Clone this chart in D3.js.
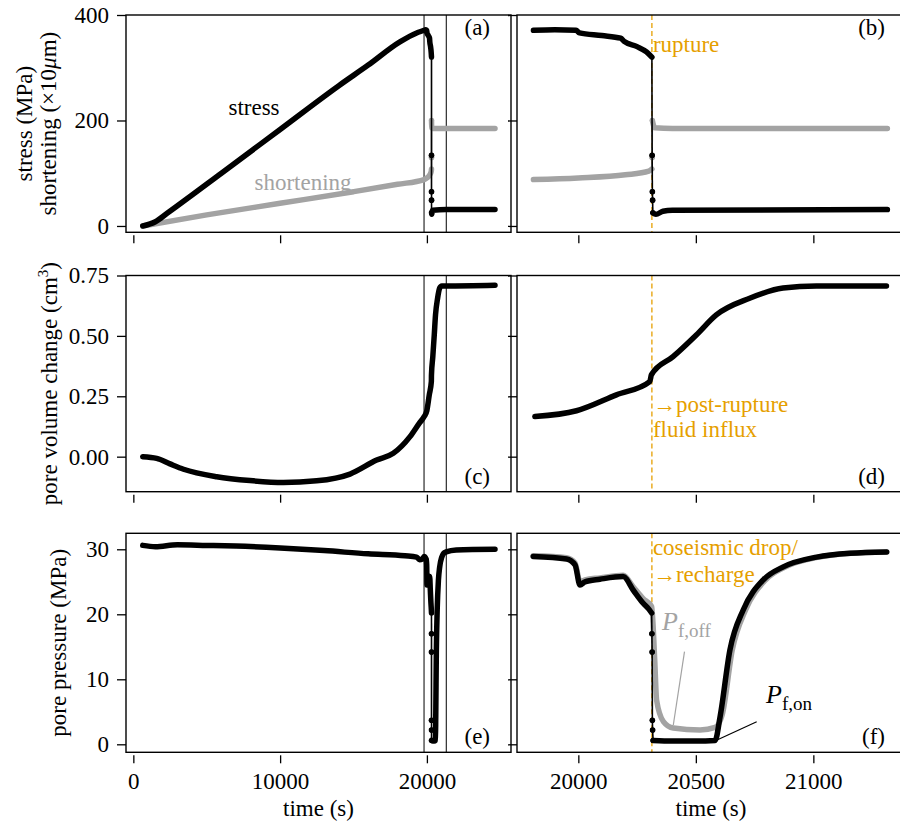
<!DOCTYPE html>
<html>
<head>
<meta charset="utf-8">
<script src="https://cdn.jsdelivr.net/npm/d3@7"></script>
<style>
  body { margin: 0; background: #fff; }
  svg { display: block; font-family: "Liberation Serif", "Tinos", "Times New Roman", "DejaVu Serif", serif; }
  svg text { font-family: "Liberation Serif", "Tinos", "Times New Roman", "DejaVu Serif", serif; }
</style>
</head>
<body>
<div id="chart"></div>
<script>
// ---- data: [time (s), value] ----
const stress = [[640,0],[1500,8],[2300,24],[6000,100],[10000,183],[14000,266],[16000,305],[18160,349],
  [19300,366],[19809,371],[19900,372],[19990,371],[20005,366],[20100,361],[20180,356],[20195,350],
  [20250,340],[20290,330],[20313,320],[20314,134],[20315,65],[20316,49],[20317,25],[20330,22],
  [20360,28],[20400,30],[21315,31],[24640,31]];
const shortening = [[640,0],[5000,21],[10000,43],[15000,65],[18000,79],[19809,88],[20000,91],
  [20200,97],[20300,104],[20313,108],[20314,130],[20315,200],[20325,186],[20400,185],[21315,185],[24640,185]];
const poreVolume = [[640,0],[1590,-0.007],[2500,-0.03],[3420,-0.052],[5680,-0.083],[7950,-0.099],
  [10220,-0.107],[12490,-0.1],[14760,-0.072],[16580,-0.014],[17710,0.014],[18850,0.083],[19500,0.14],
  [19815,0.166],[19992,0.19],[20162,0.256],[20304,0.311],[20311,0.339],[20403,0.414],[20502,0.504],
  [20587,0.587],[20729,0.656],[20871,0.698],[21013,0.707],[21311,0.707],[24640,0.71]];
const pfOn = [[640,30.6],[1500,30.4],[3000,30.7],[5000,30.6],[7000,30.5],[10000,30.2],[13000,29.8],
  [16000,29.3],[18500,29.0],[19300,28.8],[19500,28.4],[19700,28.5],[19808,28.9],[19950,28.5],
  [19986,27.6],[20007,24.5],[20028,25.0],[20092,25.4],[20191,25.8],[20234,23.7],[20276,21.7],
  [20300,20.8],[20312,20.2],[20313,17],[20314,14.2],[20315,3.7],[20316,2.2],[20318,0.6],[20400,0.5],
  [20500,0.5],[20582,0.6],[20603,4.2],[20645,14.5],[20702,20.7],[20787,25.3],[20872,27.3],
  [21014,28.8],[21156,29.4],[21312,29.6],[22000,29.9],[24640,30.0]];
const pfOff = [[19808,29.0],[19950,28.7],[19986,27.9],[20007,25.0],[20028,25.3],[20092,25.6],
  [20191,26.0],[20234,24.2],[20276,22.4],[20312,21.2],[20325,13],[20333,6.8],[20362,3.5],[20404,2.5],
  [20518,2.2],[20582,2.6],[20612,4.5],[20655,14.5],[20712,20.7],[20797,25.3],[20882,27.3],
  [21024,28.8],[21166,29.4],[21312,29.6]];

const fullTicks = [0, 10000, 20000];
const zoomTicks = [20000, 20500, 21000];
const rupture = 20313;
const zoomWindow = [19805, 21320];

const black = "#000", grey = "#a3a3a3", orange = "#e69f00";
const fs = 23;
const serif = '"Liberation Serif", "Tinos", "Times New Roman", "DejaVu Serif", serif';

const svg = d3.select("#chart").append("svg")
  .attr("width", 900).attr("height", 828)
  .style("font-family", serif);

const xFull = d3.scaleLinear().domain([-500, 25730]).range([126, 511]);
const xZoom = d3.scaleLinear().domain([19739, 21390]).range([517, 905]);

const rows = [
  {top: 15, bottom: 232.3, domain: [-12, 400], ticks: [0, 200, 400], fmt: d3.format("d"), tag: ["(a)", "(b)"], tagTop: true},
  {top: 275.5, bottom: 491.7, domain: [-0.145, 0.75], ticks: [0, 0.25, 0.5, 0.75], fmt: d3.format(".2f"), tag: ["(c)", "(d)"], tagTop: false},
  {top: 533.3, bottom: 752.3, domain: [-1.23, 32.46], ticks: [0, 10, 20, 30], fmt: d3.format("d"), tag: ["(e)", "(f)"], tagTop: false}
];
rows.forEach(r => r.y = d3.scaleLinear().domain(r.domain).range([r.bottom, r.top]));

const inWindow = d => d.filter(p => p[0] >= zoomWindow[0] && p[0] <= zoomWindow[1]);

// thick runs for dense data, thin line + dots where the record jumps within a couple of seconds
function drawSeries(g, x, y, data, color) {
  const line = d3.line().curve(d3.curveMonotoneX).x(d => x(d[0])).y(d => y(d[1]));
  const runs = [], jumps = [];
  let run = [data[0]];
  for (let i = 1; i < data.length; i++) {
    if (data[i][0] - data[i-1][0] <= 2) {
      jumps.push([data[i-1], data[i]]);
      runs.push(run);
      run = [data[i]];
    } else run.push(data[i]);
  }
  runs.push(run);
  jumps.forEach(j => {
    g.append("path").attr("d", d3.line().x(d => x(d[0])).y(d => y(d[1]))(j)).attr("fill", "none")
      .attr("stroke", color).attr("stroke-width", 1.6);
    g.append("circle").attr("cx", x(j[1][0])).attr("cy", y(j[1][1])).attr("r", 2.6).attr("fill", color);
  });
  runs.forEach(r => {
    if (r.length > 1) {
      g.append("path").attr("d", line(r)).attr("fill", "none")
        .attr("stroke", color).attr("stroke-width", 5.5)
        .attr("stroke-linejoin", "round").attr("stroke-linecap", "round");
    } else {
      g.append("circle").attr("cx", x(r[0][0])).attr("cy", y(r[0][1])).attr("r", 2.8).attr("fill", color);
    }
  });
}

function panel(row, x, ticksX, isLeft, idx) {
  const clipId = "clip" + idx;
  const [x0, x1] = x.range();
  svg.append("clipPath").attr("id", clipId).append("rect")
    .attr("x", x0).attr("y", row.top).attr("width", x1 - x0).attr("height", row.bottom - row.top);
  const g = svg.append("g");
  const plot = g.append("g").attr("clip-path", `url(#${clipId})`);

  const ya = g.append("g").attr("transform", `translate(${x0},0)`)
    .call(d3.axisLeft(row.y).tickValues(row.ticks).tickSize(9).tickPadding(8)
      .tickFormat(isLeft ? row.fmt : ""));
  // x ticks sit a little below the frame
  const isBottom = idx >= 4;
  const xa = g.append("g").attr("transform", `translate(0,${row.bottom + 3})`)
    .call(d3.axisBottom(x).tickValues(ticksX).tickSize(8).tickPadding(9)
      .tickFormat(isBottom ? d3.format("d") : ""));
  [ya, xa].forEach(a => {
    a.attr("font-family", null).attr("font-size", null);
    a.select(".domain").remove();
    a.selectAll("line").attr("stroke", black).attr("stroke-width", 1.3);
    a.selectAll("text").attr("font-size", fs).style("font-family", serif).attr("fill", black);
  });
  return plot;
}

function frame(row, x) {
  const [x0, x1] = x.range();
  svg.append("rect").attr("x", x0).attr("y", row.top).attr("width", x1 - x0)
    .attr("height", row.bottom - row.top).attr("fill", "none")
    .attr("stroke", black).attr("stroke-width", 1.4);
}

function tag(row, isLeft, txt) {
  svg.append("text").attr("x", isLeft ? 490 : 885)
    .attr("y", row.tagTop ? row.top + 20 : row.bottom - 8)
    .attr("text-anchor", "end").attr("font-size", fs).text(txt);
}

const series = [
  [[shortening, grey], [stress, black]],
  [[poreVolume, black]],
  [[pfOn, black]]
];
const seriesZoom = [
  [[shortening, grey], [stress, black]],
  [[poreVolume, black]],
  [[pfOff, grey], [pfOn, black]]
];

rows.forEach((row, i) => {
  // left: full record
  const pl = panel(row, xFull, fullTicks, true, i * 2);
  zoomWindow.forEach(t => pl.append("line").attr("x1", xFull(t)).attr("x2", xFull(t))
    .attr("y1", row.top).attr("y2", row.bottom).attr("stroke", black).attr("stroke-width", 1));
  if (i === 0) {
    pl.append("text").attr("x", 254).attr("y", 115).attr("text-anchor", "middle")
      .attr("font-size", fs).text("stress");
    pl.append("text").attr("x", 303).attr("y", 190).attr("text-anchor", "middle")
      .attr("font-size", fs).attr("fill", grey).text("shortening");
  }
  series[i].forEach(([d, c]) => drawSeries(pl, xFull, row.y, d, c));
  frame(row, xFull);
  tag(row, true, row.tag[0]);

  // right: zoom around rupture
  const pr = panel(row, xZoom, zoomTicks, false, i * 2 + 1);
  pr.append("line").attr("x1", xZoom(rupture)).attr("x2", xZoom(rupture))
    .attr("y1", row.top).attr("y2", row.bottom).attr("stroke", orange)
    .attr("stroke-width", 1.3).attr("stroke-dasharray", "5,3");
  seriesZoom[i].forEach(([d, c]) => drawSeries(pr, xZoom, row.y, inWindow(d), c));
  frame(row, xZoom);
  tag(row, false, row.tag[1]);
});

// annotations
const ax = xZoom(rupture) + 1;
function note(x, y, txt, color, size) {
  return svg.append("text").attr("x", x).attr("y", y).attr("font-size", size || fs).attr("fill", color).text(txt);
}
note(ax, 52, "rupture", orange);
note(ax, 412, "\u2192post-rupture", orange);
note(ax, 437, "fluid influx", orange);
note(ax, 555, "coseismic drop/", orange);
note(ax, 582, "\u2192recharge", orange);

const pOff = note(662, 630, "", grey, 26);
pOff.append("tspan").attr("font-style", "italic").text("P");
pOff.append("tspan").attr("font-size", 19).attr("dy", 7).text("f,off");
svg.append("line").attr("x1", 684.5).attr("y1", 651.7).attr("x2", 673.3).attr("y2", 725)
  .attr("stroke", grey).attr("stroke-width", 1.2);

const pOn = note(766, 703, "", black, 26);
pOn.append("tspan").attr("font-style", "italic").text("P");
pOn.append("tspan").attr("font-size", 19).attr("dy", 7).text("f,on");
svg.append("line").attr("x1", 756.7).attr("y1", 721.7).attr("x2", 717).attr("y2", 740)
  .attr("stroke", black).attr("stroke-width", 1.2);

// axis titles
function ylabel(x, yc, build) {
  const t = svg.append("text").attr("transform", `translate(${x},${yc}) rotate(-90)`)
    .attr("text-anchor", "middle").attr("font-size", fs);
  build(t);
}
ylabel(32, 123.6, t => t.text("stress (MPa)"));
ylabel(56, 123.6, t => {
  t.append("tspan").text("shortening (\u00d710");
  t.append("tspan").attr("font-style", "italic").text("\u03bc");
  t.append("tspan").text("m)");
});
ylabel(57, 383.6, t => {
  t.append("tspan").text("pore volume change (cm");
  t.append("tspan").attr("font-size", 15).attr("dy", -9).text("3");
  t.append("tspan").attr("dy", 9).text(")");
});
ylabel(66, 642.8, t => t.text("pore pressure (MPa)"));

svg.append("text").attr("x", 318.5).attr("y", 816).attr("text-anchor", "middle").attr("font-size", fs).text("time (s)");
svg.append("text").attr("x", 711).attr("y", 816).attr("text-anchor", "middle").attr("font-size", fs).text("time (s)");
</script>
</body>
</html>
